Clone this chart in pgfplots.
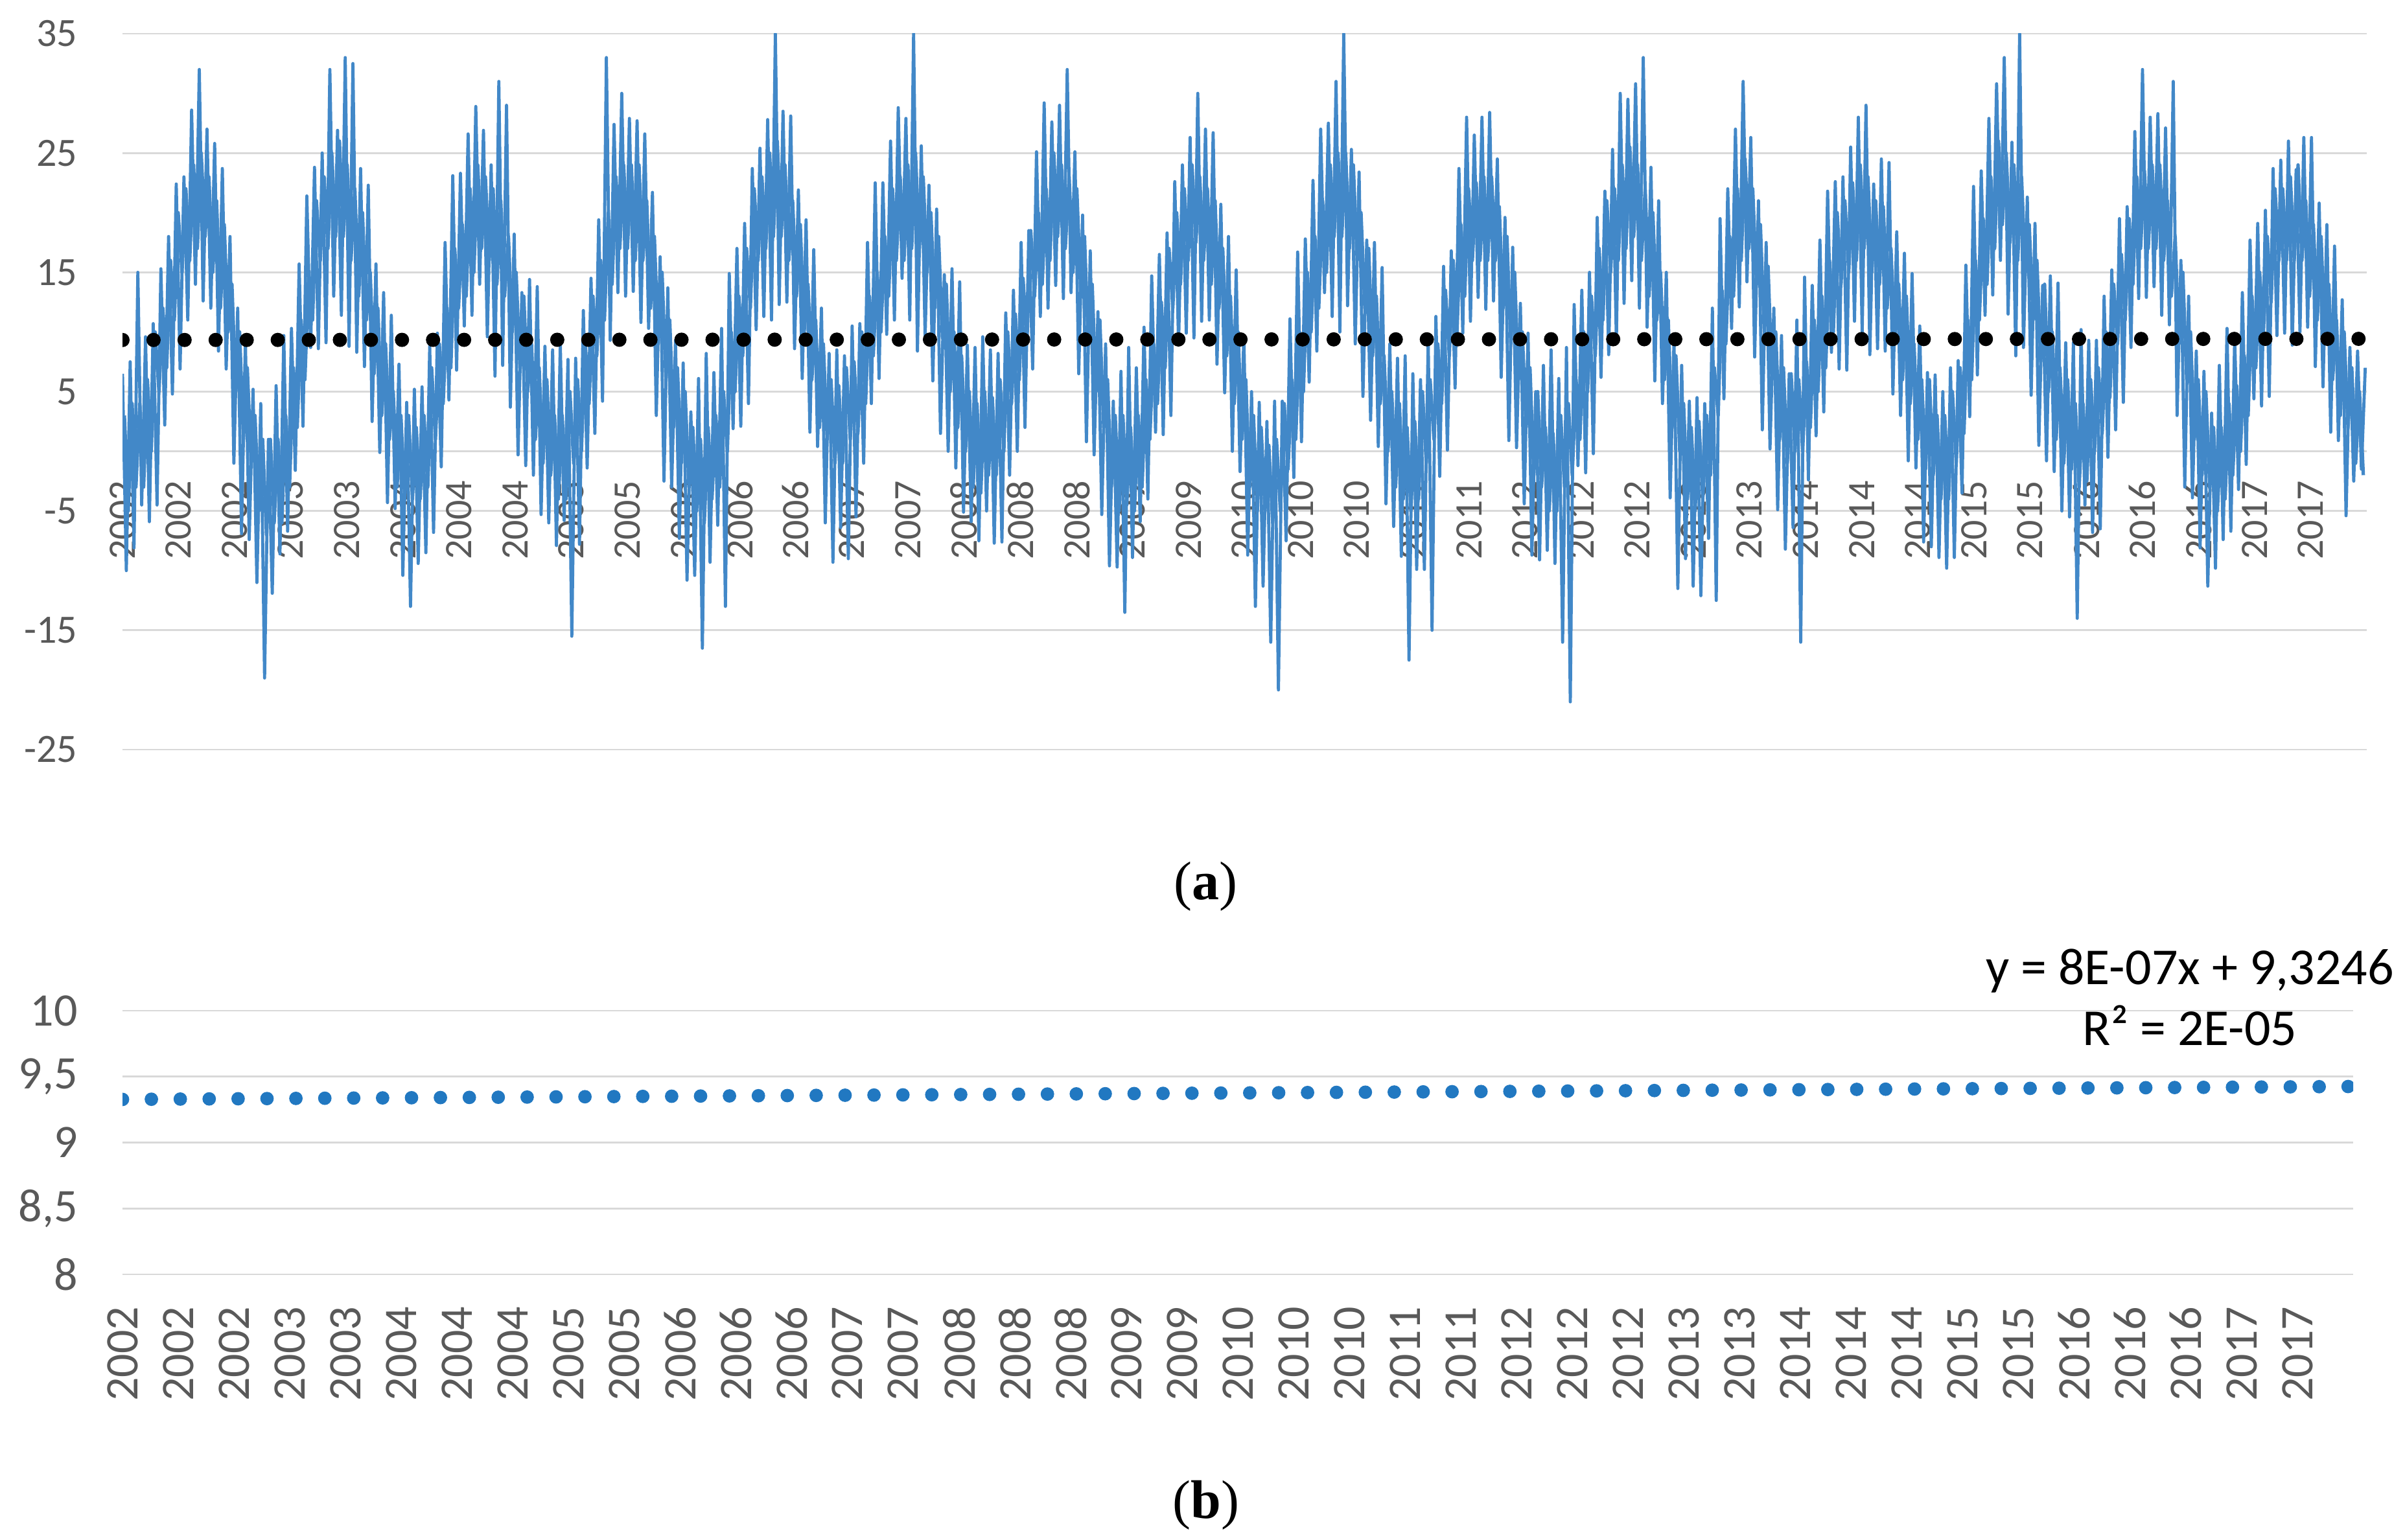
\documentclass[border=0pt]{standalone}
\usepackage{fontspec}
\setmainfont{Carlito}
\newfontfamily\capfont{Liberation Serif}
\usepackage{pgfplots}
\usepackage{pgfplotstable}
\pgfplotsset{compat=1.18}
\definecolor{tempblue}{RGB}{66,136,200}
\definecolor{dotblue}{RGB}{33,120,193}
\definecolor{gridgrey}{RGB}{217,217,217}
\definecolor{labgrey}{RGB}{89,89,89}

% temperature series: extreme readings, one every 10 days (index = position on the time axis)
\pgfplotstableread[row sep=\\]{
y\\
6.5\\ -10\\ 7.5\\ -8.1\\ 15\\ -4.5\\ 9.6\\ -5.9\\ 10.7\\ -4.5\\ 15.3\\ 2.2\\ 18\\ 4.8\\ 22.4\\ 6.9\\ 23\\ 11\\ 28.6\\ 14\\
32\\ 12.6\\ 27\\ 12\\ 25.8\\ 8.4\\ 23.7\\ 6.9\\ 18\\ -1\\ 12\\ -6.9\\ 9.3\\ -7.4\\ 5.2\\ -11\\ 4\\ -19\\ 1\\
-11.9\\ 5.5\\ -8.6\\ 9.7\\ -6.7\\ 10.3\\ -1.6\\ 15.7\\ 2.1\\ 21.4\\ 8.7\\ 23.8\\ 8.6\\ 25\\ 9.1\\ 32\\ 13\\
26.9\\ 11.4\\ 33\\ 8.8\\ 32.5\\ 8.3\\ 23.7\\ 7.1\\ 22.3\\ 2.5\\ 15.7\\ -0.1\\ 13.3\\ -4.3\\ 11.4\\ -4.8\\ 7.3\\ -10.4\\ 4.1\\ -13\\
5.2\\ -9.4\\ 5.4\\ -8.5\\ 8.8\\ -6.8\\ 9.9\\ -1.3\\ 17.5\\ 4.3\\ 23.1\\ 6.8\\ 23.3\\ 10.5\\ 26.6\\ 11.4\\ 28.9\\ 14\\
26.9\\ 9.6\\ 24\\ 6.3\\ 31\\ 7.2\\ 29\\ 3.7\\ 18.2\\ -0.3\\ 13.3\\ -1.2\\ 14.4\\ -2\\ 13.8\\ -5.3\\ 8.8\\ -6\\ 8.5\\ -7.9\\ 9\\
-5.8\\ 7.7\\ -15.5\\ 7.8\\ -7.8\\ 11.8\\ -1.4\\ 14.5\\ 1.5\\ 19.4\\ 4.2\\ 33\\ 9.3\\ 27.4\\ 13.3\\ 30\\ 13\\
27.9\\ 13.4\\ 27.7\\ 10.8\\ 26.6\\ 10.3\\ 21.7\\ 3\\ 16.3\\ -2.5\\ 13.7\\ -3\\ 9.3\\ -7.3\\ 7.4\\ -10.8\\ 3.3\\ -10.4\\ 6.1\\ -16.5\\
8.2\\ -9.3\\ 6.6\\ -6.2\\ 10.3\\ -13\\ 14.9\\ 1.9\\ 17\\ 2.1\\ 19.1\\ 4\\ 23.7\\ 10.2\\ 25.4\\ 11.3\\ 27.8\\ 11\\
35\\ 12.3\\ 28.5\\ 12.5\\ 28.1\\ 8.6\\ 21.9\\ 6.1\\ 19.4\\ 1.6\\ 16.9\\ 0.4\\ 12\\ -6\\ 8.2\\ -9.3\\ 8.5\\
-6.4\\ 8\\ -9\\ 10.5\\ -5.5\\ 10.7\\ -1\\ 17.5\\ 4\\ 22.5\\ 6.1\\ 22.5\\ 9.8\\ 26\\ 11\\ 28.8\\ 14.5\\ 27.9\\ 11\\
35\\ 8.4\\ 25.6\\ 9.6\\ 22.3\\ 5.9\\ 20.3\\ 1.5\\ 14.8\\ 0\\ 15.3\\ -1.4\\ 14.2\\ -5.1\\ 8.9\\ -5.9\\ 8.7\\ -7.5\\
9.6\\ -5\\ 8.5\\ -7.7\\ 8.2\\ -7.6\\ 11.6\\ -2\\ 13.5\\ 0\\ 17.5\\ 2\\ 18.5\\ 6.9\\ 25.1\\ 11.3\\ 29.2\\ 12\\ 27.6\\ 13.9\\ 29\\
12.8\\ 32\\ 13.3\\ 25.1\\ 6.5\\ 19.8\\ 0.8\\ 16.8\\ -0.3\\ 11.7\\ -5.3\\ 9\\ -9.6\\ 4.2\\ -9.7\\ 6.7\\ -13.5\\
8.7\\ -8.9\\ 7\\ -5.9\\ 10.4\\ -4\\ 14.7\\ 1.6\\ 16.5\\ 1.4\\ 18.3\\ 3\\ 22.6\\ 8.9\\ 24\\ 9.9\\ 26.3\\ 9.5\\
30\\ 10.9\\ 27\\ 11\\ 26.7\\ 7.3\\ 20.7\\ 4.9\\ 18\\ 0\\ 15.2\\ -1.7\\ 9.7\\ -8.7\\ 5\\ -13\\ 4.1\\ -11.3\\ 2.5\\
-16\\ 4.2\\ -20\\ 4.2\\ -7.5\\ 11.1\\ -2.2\\ 16.7\\ 0.8\\ 17.8\\ 5.8\\ 22.7\\ 8.4\\ 27\\ 13.3\\ 27.5\\ 11.3\\ 31\\ 10\\
35\\ 12.2\\ 25.3\\ 9\\ 23.4\\ 4.6\\ 17.7\\ 2.6\\ 17.5\\ 0.4\\ 15.4\\ -4.4\\ 9\\ -6.3\\ 7.8\\ -8.8\\ 8\\
-17.5\\ 6.5\\ -9.9\\ 6\\ -9.9\\ 9.3\\ -15\\ 11.3\\ -2.1\\ 15.5\\ 0.1\\ 16.8\\ 5.3\\ 23.7\\ 9.9\\ 28\\ 10.9\\ 26.5\\ 12.9\\ 28\\
11.9\\ 28.4\\ 12.6\\ 24.5\\ 6.2\\ 19.6\\ 0.9\\ 17.1\\ 0.3\\ 12.4\\ -4.4\\ 9.9\\ -8.7\\ 5\\ -9.1\\ 7.2\\ -8.3\\ 8.5\\
-9.4\\ 6.1\\ -16\\ 8.7\\ -21\\ 12.3\\ -1.2\\ 13.5\\ -1.8\\ 15\\ -0.2\\ 19.6\\ 6.2\\ 21.8\\ 8.1\\ 25.3\\ 9.3\\ 30\\ 12.4\\ 29.5\\
14.3\\ 30.8\\ 12\\ 33\\ 10.4\\ 23.8\\ 5.9\\ 21\\ 4\\ 15\\ -3.9\\ 9.3\\ -11.5\\ 7.2\\ -9\\ 4.2\\ -11.3\\ 4.5\\
-12.1\\ 4\\ -7.3\\ 12\\ -12.5\\ 19.5\\ 4.4\\ 22\\ 10.3\\ 27\\ 12.1\\ 31\\
14.2\\ 26.3\\ 7.9\\ 21\\ 1.8\\ 17.5\\ 0.2\\ 12\\ -4.9\\ 9.7\\ -8.2\\ 6.5\\
-6.4\\ 11\\ -16\\ 14.6\\ -2.4\\ 13.9\\ 1.3\\ 17.7\\ 3.3\\ 21.8\\ 8.3\\ 22.6\\ 6.9\\ 23\\ 6.8\\ 25.5\\ 10.9\\ 28\\
9.9\\ 29\\ 8.1\\ 22.4\\ 8.6\\ 24.5\\ 8.4\\ 24.2\\ 4.8\\ 18.4\\ 3\\ 16.6\\ -0.8\\ 14.9\\ -1.4\\ 10.5\\ -7.6\\ 6.6\\ -8\\ 6.4\\ -8.9\\ 5\\
-9.8\\ 7\\ -8.9\\ 7.6\\ -3.5\\ 15.6\\ 2.9\\ 22.2\\ 6.4\\ 23.5\\ 11.4\\ 27.9\\ 13.1\\ 30.8\\ 16\\
33\\ 11.5\\ 25.9\\ 8\\ 35\\ 8.7\\ 21.3\\ 4.7\\ 19.1\\ 0.5\\ 13.9\\ -0.8\\ 14.7\\ -1.7\\ 14.1\\ -5\\ 9.1\\ -5.5\\ 9.1\\ -14\\
10.2\\ -4.5\\ 9.3\\ -6.8\\ 9.3\\ -6.5\\ 13\\ -0.5\\ 15.2\\ 1.8\\ 19.5\\ 4.1\\ 20.5\\ 8.7\\ 26.8\\ 12.8\\ 32\\ 12.9\\ 28\\
13.8\\ 28.3\\ 11.4\\ 27.1\\ 10.6\\ 31\\ 3\\ 16\\ -3\\ 13\\ -3.9\\ 8.4\\ -8.1\\ 6.7\\ -11.3\\ 3.2\\ -9.8\\
7.2\\ -7.4\\ 10.3\\ -6.7\\ 9.5\\ -3.2\\ 13.3\\ -1.1\\ 17.7\\ 4.4\\ 19.1\\ 3.8\\ 20.2\\ 4.6\\ 23.7\\ 9.7\\ 24.4\\ 9.9\\ 26\\
8.9\\ 23.6\\ 10\\ 26.3\\ 10.4\\ 26.3\\ 7.1\\ 20.8\\ 5.4\\ 19\\ 1.6\\ 17.2\\ 0.9\\ 12.7\\ -5.4\\ 8.7\\ -2.5\\ 8.4\\ -1.5\\ 7\\
}\tempdata

% temperature series: readings in the dense core of the band, half a step later
\pgfplotstableread[row sep=\\]{
y\\
3\\ -5\\ 4\\ -3\\ 4\\ -3\\ 6\\ 0\\ 10\\ 5\\ 12\\ 7\\ 16\\ 11\\ 20\\ 15\\ 22\\ 16\\ 24\\ 17\\
25\\ 18\\ 23\\ 15\\ 21\\ 12\\ 19\\ 10\\ 14\\ 5\\ 10\\ 1\\ 7\\ -1\\ 3\\ -5\\ 1\\ -7\\ 1\\
-6\\ 1\\ -6\\ 3\\ -3\\ 7\\ 2\\ 11\\ 6\\ 15\\ 11\\ 21\\ 16\\ 23\\ 17\\ 25\\ 18\\
26\\ 18\\ 24\\ 16\\ 22\\ 13\\ 20\\ 11\\ 15\\ 6.5\\ 12\\ 3\\ 9\\ 1\\ 5\\ -3\\ 3\\ -4\\ 3\\ -4\\
2\\ -4\\ 3\\ -3\\ 7\\ 1\\ 9\\ 4\\ 12\\ 7\\ 17\\ 12\\ 19\\ 13\\ 22\\ 15\\ 24\\ 17\\
23\\ 16\\ 22\\ 14\\ 21\\ 13\\ 18\\ 10\\ 15\\ 7\\ 13\\ 5\\ 9\\ 1\\ 7\\ -1\\ 6\\ -2\\ 3\\ -4\\ 3\\
-4\\ 5\\ -1\\ 6\\ 0\\ 9\\ 4\\ 13\\ 8\\ 16\\ 11\\ 20\\ 14\\ 23\\ 17\\ 24\\ 17\\
24\\ 16\\ 24\\ 16\\ 21\\ 12\\ 18\\ 9\\ 15\\ 6\\ 11\\ 2\\ 7\\ -1\\ 5\\ -3\\ 2\\ -5\\ 1\\ -6\\
2\\ -4\\ 3\\ -3\\ 5\\ 0\\ 10\\ 5\\ 13\\ 8\\ 17\\ 12\\ 22\\ 16\\ 23\\ 17\\ 25\\ 18\\
26\\ 18\\ 24\\ 16\\ 21\\ 13\\ 19\\ 10\\ 14\\ 6\\ 11\\ 2\\ 9\\ 1\\ 6\\ -1\\ 5.5\\
-1\\ 7\\ 1\\ 7.5\\ 1.5\\ 10\\ 4\\ 13\\ 8\\ 15\\ 10\\ 18\\ 13\\ 22\\ 16\\ 23\\ 16\\ 24\\ 17\\
25\\ 17\\ 23\\ 15\\ 20\\ 12\\ 18\\ 9.5\\ 14\\ 5\\ 10\\ 2\\ 8\\ 0\\ 5\\ -3\\ 4\\ -3.5\\
5\\ -2\\ 4.5\\ -2\\ 6\\ 0\\ 10\\ 4\\ 11.5\\ 6\\ 14.5\\ 9\\ 18.5\\ 13\\ 20\\ 14\\ 22\\ 16\\ 25\\ 18\\ 24\\
17\\ 23\\ 15\\ 22\\ 13.5\\ 18\\ 9\\ 14\\ 5\\ 11\\ 2\\ 6\\ -3\\ 3\\ -5\\ 3\\ -4.5\\
2\\ -5\\ 3\\ -3\\ 6\\ 1\\ 9\\ 4\\ 12.5\\ 7\\ 17\\ 12\\ 20\\ 14\\ 22\\ 16\\ 24\\ 17.5\\
23\\ 16\\ 22\\ 14\\ 21\\ 12\\ 17\\ 8\\ 13\\ 4\\ 10\\ 1\\ 6\\ -3\\ 3\\ -5\\ 2\\ -5\\ 0.5\\
-6\\ 1\\ -5\\ 4\\ -1.5\\ 6\\ 1\\ 10\\ 5\\ 15\\ 10\\ 18\\ 12\\ 21\\ 15\\ 24\\ 18\\ 25\\ 18\\
25\\ 17\\ 24\\ 16\\ 20\\ 12\\ 17\\ 8\\ 13\\ 4\\ 8\\ 0\\ 5\\ -3\\ 4\\ -4\\ 2\\
-5\\ 2.5\\ -4\\ 5\\ -1\\ 6\\ 1\\ 9\\ 4\\ 13.5\\ 8\\ 16\\ 10\\ 19\\ 13\\ 22\\ 16\\ 22.5\\ 16\\ 23\\
16\\ 23\\ 16\\ 20.5\\ 12\\ 18\\ 9\\ 15\\ 6\\ 10\\ 2\\ 7\\ -2\\ 5\\ -3\\ 2\\ -5\\ 1.5\\
-5\\ 3\\ -3\\ 4\\ -2\\ 6\\ 1\\ 10\\ 5\\ 13\\ 8\\ 17\\ 11\\ 21\\ 15\\ 22\\ 16\\ 24\\ 17\\ 25.5\\
18\\ 24\\ 16\\ 22\\ 13\\ 20\\ 11\\ 15\\ 6\\ 11\\ 2\\ 8\\ 0\\ 4\\ -4\\ 2\\ -5\\ 2.5\\
-4\\ 3\\ -2\\ 7\\ 3\\ 13.5\\ 9\\ 18\\ 13\\ 22\\ 16\\ 24.5\\
17\\ 22\\ 14\\ 19\\ 10\\ 15.5\\ 6\\ 10\\ 1\\ 7\\ -1\\ 6.5\\
0\\ 6\\ 0\\ 7.5\\ 2\\ 11\\ 5\\ 13\\ 7\\ 16\\ 10\\ 20\\ 14\\ 21\\ 15\\ 22.5\\ 16\\ 24\\
17\\ 23\\ 15\\ 21\\ 14\\ 20.5\\ 12\\ 17\\ 9\\ 14\\ 6\\ 13\\ 4\\ 9\\ 1\\ 6\\ -1.5\\ 6\\ -2\\ 3\\ -4\\ 3\\
-4\\ 5\\ -1\\ 7\\ 1.5\\ 11\\ 6\\ 16\\ 11\\ 19.5\\ 14\\ 23\\ 17\\ 26\\ 19\\
25\\ 17.5\\ 24\\ 16\\ 23\\ 15\\ 19\\ 11\\ 16\\ 7.5\\ 14\\ 5\\ 10\\ 1\\ 7\\ -1\\ 6\\ -1.5\\ 4\\ -3\\
4\\ -2.5\\ 6\\ 0\\ 7\\ 1.5\\ 10\\ 4.5\\ 14\\ 9\\ 16.5\\ 11\\ 19.5\\ 14\\ 23\\ 17\\ 23.5\\ 17\\ 24\\
17\\ 24\\ 16\\ 21\\ 13\\ 18\\ 9\\ 15\\ 6\\ 10\\ 1\\ 6\\ -2\\ 5\\ -3\\ 2\\ -5\\
2\\ -4\\ 4\\ -2\\ 5.5\\ 0\\ 8\\ 3\\ 13\\ 7\\ 15\\ 10\\ 18\\ 12.5\\ 22\\ 16\\ 22\\ 16\\ 23\\
16\\ 24\\ 16\\ 21\\ 13\\ 19\\ 11\\ 18\\ 9\\ 14\\ 6\\ 11\\ 3\\ 10\\ 2\\ 7\\ -1\\ 5\\ -2\\
}\tempcore

\pgfplotsset{
  excelgrid/.style={
    scale only axis,
    anchor=south west,
    xmin=0, xmax=584.4,
    axis line style={draw=none},
    tick style={draw=none},
    ymajorgrids,
    grid style={gridgrey, line width=0.7pt},
    xtick={0,14.61,...,570},
    xticklabels={2002,2002,2002,2003,2003,2004,2004,2004,2005,2005,2006,2006,2006,2007,2007,2008,2008,2008,2009,2009,2010,2010,2010,2011,2011,2012,2012,2012,2013,2013,2014,2014,2014,2015,2015,2016,2016,2016,2017,2017},
    /pgf/number format/assume math mode=true,
  },
}

\begin{document}
\begin{tikzpicture}
\path (0,0) rectangle (927.75pt,594pt);

% ---------- (a): grid and labels ----------
\begin{axis}[
  excelgrid,
  at={(47.25pt,304.75pt)},
  width=865.75pt, height=276.25pt,
  ymin=-25, ymax=35,
  ytick={-25,-15,-5,5,15,25,35},
  yticklabels={-25,-15,-5,5,15,25,35},
  extra y ticks={0},
  extra y tick labels={},
  extra y tick style={grid=major},
  xticklabel style={rotate=90, anchor=east, inner sep=0pt, font=\fontsize{15}{18}\selectfont, text=labgrey},
  xticklabel shift=-104pt,
  yticklabel style={anchor=east, inner sep=0pt, xshift=-17.2pt, font=\fontsize{15.5}{18}\selectfont, text=labgrey},
]
\end{axis}
% ---------- (a): data, drawn over the labels ----------
\begin{axis}[
  scale only axis, anchor=south west, hide axis,
  at={(47.25pt,304.75pt)},
  width=865.75pt, height=276.25pt,
  xmin=0, xmax=584.4, ymin=-25, ymax=35,
]
\addplot[tempblue, line width=1.3pt, line join=round] table[x expr={\coordindex+0.5}, y=y] {\tempcore};
\addplot[tempblue, line width=1.2pt, line join=round] table[x expr=\coordindex, y=y] {\tempdata};
\addplot[black, line width=5.5pt, line cap=round, dash pattern=on 0pt off 11.98pt] coordinates {(0,9.327) (584.4,9.425)};
\end{axis}

% ---------- (b) ----------
\begin{axis}[
  excelgrid,
  at={(47.25pt,102.25pt)},
  width=860.5pt, height=101.75pt,
  ymin=8, ymax=10,
  ytick={8,8.5,9,9.5,10},
  yticklabels={8,{8,5},9,{9,5},10},
  xticklabel style={rotate=90, anchor=east, inner sep=0pt, font=\fontsize{18}{21}\selectfont, text=labgrey},
  xticklabel shift=12.25pt,
  yticklabel style={anchor=east, inner sep=0pt, xshift=-17.1pt, font=\fontsize{18}{21}\selectfont, text=labgrey},
]
\addplot[dotblue, line width=5.2pt, line cap=round, dash pattern=on 0pt off 11.15pt] coordinates {(0,9.327) (584.4,9.425)};
\end{axis}

\node[anchor=base, inner sep=0pt, font=\fontsize{20}{24}\selectfont] at (844.75pt,214pt) {y = 8E-07x + 9,3246};
\node[anchor=base, inner sep=0pt, font=\fontsize{20}{24}\selectfont] at (844.75pt,190.5pt) {R² = 2E-05};

\node[anchor=base, inner sep=0pt, font=\capfont\fontsize{21}{25}\selectfont] at (465.2pt,246.8pt) {(\textbf{a})};
\node[anchor=base, inner sep=0pt, font=\capfont\fontsize{21}{25}\selectfont] at (465.2pt,8.2pt) {(\textbf{b})};
\end{tikzpicture}
\end{document}
